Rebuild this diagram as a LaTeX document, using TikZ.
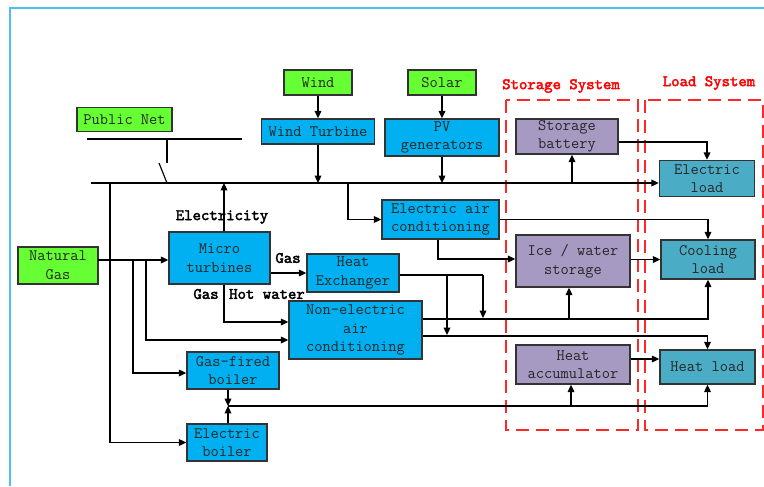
\documentclass[tikz,border=0pt]{standalone}
\usepackage{fontspec}
\newfontfamily\lblfont[FakeBold=2.5]{lmmono10-regular.otf}
\usetikzlibrary{arrows.meta}

\begin{document}
\begin{tikzpicture}[x=0.75pt,y=0.75pt,yscale=-1,xscale=1,line width=0.9pt,
  font=\ttfamily\fontsize{12}{14}\selectfont,
  box/.style={draw=black!80,line width=1.1pt,align=center,inner sep=0pt,text=black!85},
  srcbox/.style={box,fill={rgb,255:red,102;green,255;blue,51}},
  unitbox/.style={box,fill={rgb,255:red,0;green,176;blue,240}},
  storebox/.style={box,fill={rgb,255:red,166;green,153;blue,194}},
  loadbox/.style={box,fill={rgb,255:red,75;green,172;blue,198}},
  arr/.style={-{Triangle[length=5.5pt,width=5pt]}},
  lbl/.style={font=\lblfont\fontsize{12}{14}\selectfont},
  ttl/.style={font=\lblfont\fontsize{12}{14}\selectfont,text={rgb,255:red,255;green,0;blue,0}},
  dashbox/.style={draw={rgb,255:red,255;green,40;blue,40},line width=1.3pt,dash pattern=on 10pt off 5pt}]
\useasboundingbox (0,0) rectangle (764,486);

%Frame
\draw [draw={rgb,255:red,80;green,190;blue,240},line width=1.5pt] (10,486) -- (10,8) -- (764,8) ;

%Dashed groups
\draw [dashbox] (506,100) rectangle (638,430) ;
\draw [dashbox] (645,100) rectangle (763,430) ;
\node [ttl] (stitle) at (561,86) {Storage System};
\node [ttl] (ltitle) at (709,83) {Load System};

%Sources
\node [srcbox,minimum width=51pt,minimum height=18.75pt] (wind) at (318,82.5) {Wind};
\node [srcbox,minimum width=51pt,minimum height=18.75pt] (solar) at (442,82.5) {Solar};
\node [srcbox,minimum width=71.25pt,minimum height=18pt] (pnet) at (124.5,119.5) {Public Net};
\node [srcbox,minimum width=60pt,minimum height=27.75pt] (ngas) at (58,265.5) {Natural\\Gas};

%Units
\node [unitbox,minimum width=84.75pt,minimum height=18.75pt] (wturb) at (318,131.5) {Wind Turbine};
\node [unitbox,minimum width=85.5pt,minimum height=27.75pt] (pv) at (442,137.5) {PV\\generators};
\node [unitbox,minimum width=87.75pt,minimum height=29.25pt] (eac) at (440.5,219.5) {Electric air\\conditioning};
\node [unitbox,minimum width=75.75pt,minimum height=39pt] (micro) at (219.5,258) {Micro\\turbines};
\node [unitbox,minimum width=69pt,minimum height=28.5pt] (hex) at (353,273) {Heat\\Exchanger};
\node [unitbox,minimum width=99.75pt,minimum height=43.5pt] (nac) at (355.5,330) {Non-electric\\air\\conditioning};
\node [unitbox,minimum width=69pt,minimum height=27.75pt] (gboil) at (233,370.5) {Gas-fired\\boiler};
\node [unitbox,minimum width=60pt,minimum height=27.75pt] (eboil) at (227,442.5) {Electric\\boiler};

%Storage
\node [storebox,minimum width=76.5pt,minimum height=26.25pt] (batt) at (567,136.5) {Storage\\battery};
\node [storebox,minimum width=85.5pt,minimum height=39pt] (ice) at (573,261) {Ice / water\\storage};
\node [storebox,minimum width=85.5pt,minimum height=29.25pt] (hacc) at (573,364.5) {Heat\\accumulator};

%Loads
\node [loadbox,minimum width=71.25pt,minimum height=27pt] (eload) at (707,178.5) {Electric\\load};
\node [loadbox,minimum width=70.5pt,minimum height=29.25pt] (cload) at (708,259.5) {Cooling\\load};
\node [loadbox,minimum width=71.25pt,minimum height=25.5pt] (hload) at (707.5,367) {Heat load};

%Public net and switch
\coordinate (bus) at (91,183);
\coordinate (netA) at (87,139);
\coordinate (netB) at (242,139);
\coordinate (swA) at (167,163);
\coordinate (swB) at (159,163);
\draw (netA) -- (netB) ;
\draw (swA |- netA) -- (swA) ;
\draw (swB) -- (swA |- bus) ;

%Electric bus
\draw [arr] (bus) -- (bus -| eload.west) ;
\draw [arr] (wind) -- (wturb) ;
\draw [arr] (solar) -- (pv) ;
\draw [arr] (wturb) -- (wturb |- bus) ;
\draw [arr] (pv) -- (pv |- bus) ;
\draw [arr] (micro.north -| 224,0) -- (bus -| 224,0) ;
\node [lbl] (elec) at (222,217) {Electricity};
\coordinate (jA) at (110,183);
\coordinate (jB) at (348,183);
\coordinate (jC) at (572,183);
\draw [arr] (jA) |- (eboil) ;
\draw [arr] (jB) |- (eac) ;
\draw [arr] (jC) -- (jC |- batt.south) ;
\draw [arr] (batt.east |- 0,142) -| (eload) ;

%Cooling
\draw [arr] (eac.east) -| (cload) ;
\draw [arr] (eac.south -| 438,0) |- (ice.west |- 0,259) ;
\draw [arr] (ice.east |- cload) -- (cload) ;

%Natural gas
\coordinate (g0) at (98,260);
\coordinate (g1) at (133,260);
\coordinate (g2) at (146,260);
\draw [arr] (g0) -- (g0 -| micro.west) ;
\draw [arr] (g1) |- (gboil.west |- 0,373) ;
\draw [arr] (g2) |- (nac.west |- 0,340) ;

%Micro turbine outputs
\draw [arr] (micro.south -| 224,0) |- (nac.west |- 0,322) ;
\draw [arr] (micro.east |- hex) -- (hex) ;
\node [lbl] (gas1) at (288,258) {Gas};
\node [lbl] (gas2) at (206,294) {Gas};
\node [lbl] (hotw) at (267,294) {Hot water};

%Heat exchanger and non-electric AC
\coordinate (h1) at (447,275);
\coordinate (h2) at (483,275);
\coordinate (c1) at (569,319);
\draw (hex.east |- h2) -- (h2) ;
\draw [arr] (h2) -- (483,318) ;
\draw [arr] (h1) -- (447,335) ;
\draw [arr] (nac.east |- c1) -| (cload) ;
\draw [arr] (c1) -- (c1 |- ice.south) ;
\draw [arr] (nac.east |- 0,336) -| (hload) ;

%Heat
\coordinate (k0) at (228,406);
\coordinate (k1) at (571,406);
\draw [arr] (hacc.east |- 0,359) -- (hload.west |- 0,359) ;
\draw [arr] (k0) -| (hload) ;
\draw [arr] (k1) -- (k1 |- hacc.south) ;
\draw [arr] (gboil.south -| k0) -- (k0) ;
\draw [arr] (eboil.north -| k0) -- (k0) ;

\end{tikzpicture}
\end{document}
